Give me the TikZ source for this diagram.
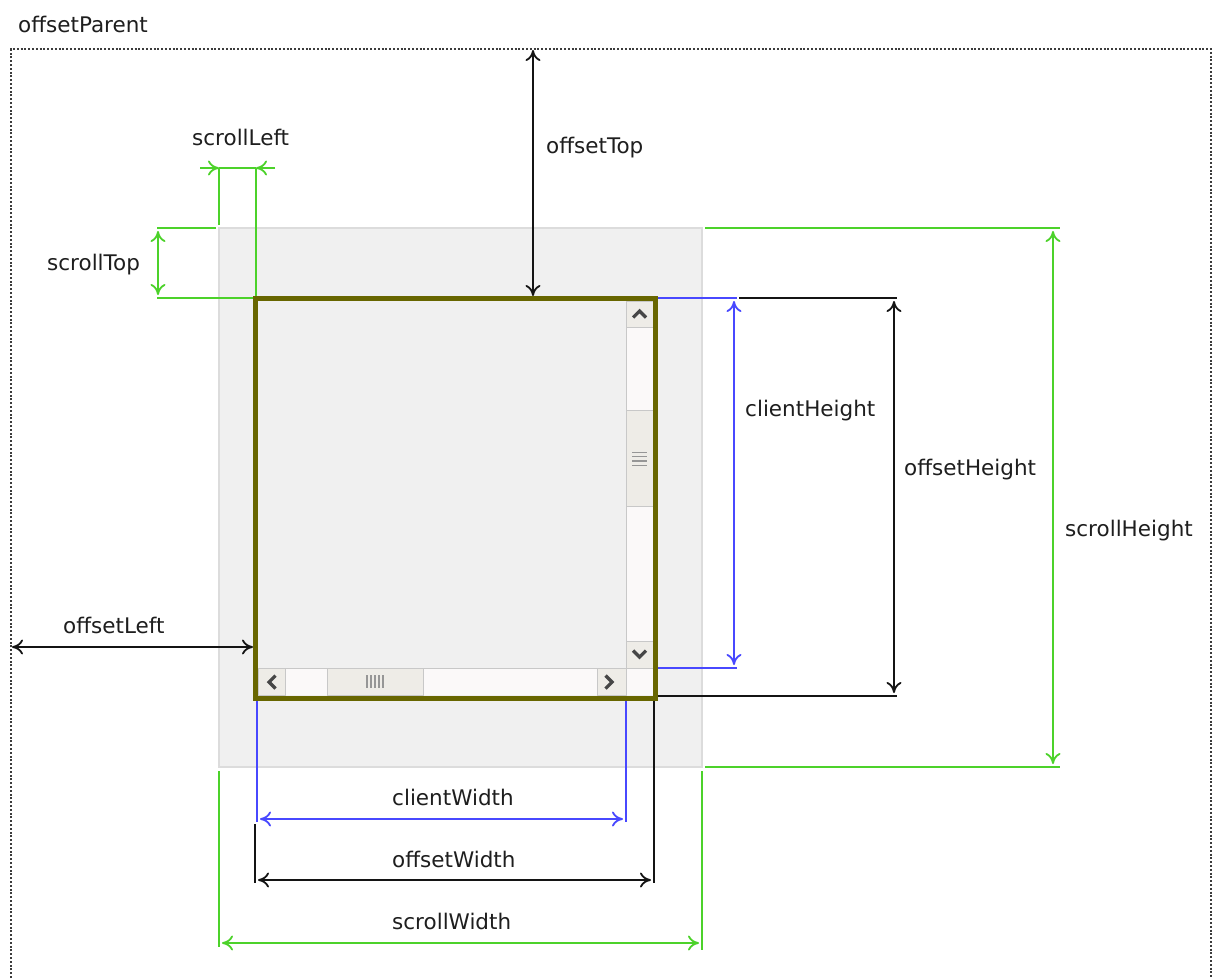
\documentclass[tikz,border=0pt]{standalone}
\usepackage{fontspec}
\setmainfont{DejaVu Sans}
\usetikzlibrary{arrows.meta}
\definecolor{dimgreen}{RGB}{76,210,42}
\definecolor{dimblue}{RGB}{72,72,255}
\definecolor{dimblack}{RGB}{20,20,20}
\definecolor{framecol}{RGB}{60,60,60}
\definecolor{olivebox}{RGB}{104,102,0}
\definecolor{scrollbg}{RGB}{240,240,240}
\definecolor{scrolledge}{RGB}{220,220,220}
\definecolor{trackbg}{RGB}{251,249,249}
\definecolor{btnbg}{RGB}{238,236,231}
\definecolor{btnedge}{RGB}{200,200,200}
\definecolor{glyph}{RGB}{70,70,70}
\definecolor{grip}{RGB}{150,150,150}
\definecolor{txt}{RGB}{30,30,30}
\begin{document}
\begin{tikzpicture}[x=1pt,y=-1pt,
  lbl/.style={font=\fontsize{21.5}{25}\selectfont, text=txt, inner sep=0pt, anchor=base west},
  extline/.style={line width=1.8pt},
  dimarrow/.style={line width=1.8pt,
    {Computer Modern Rightarrow[length=11pt,width=15pt]}-{Computer Modern Rightarrow[length=11pt,width=15pt]},
    shorten >=3pt, shorten <=3pt},
  onearrow/.style={line width=1.8pt, -{Computer Modern Rightarrow[length=11pt,width=15pt]}},
  dotframe/.style={line width=1.8pt, dash pattern=on 2pt off 1.8pt, framecol},
  btn/.style={fill=btnbg, draw=btnedge, line width=1pt},
  chev/.style={draw=glyph, line width=3.2pt},
  griplines/.style={draw=grip, line width=1.3pt}
]
\useasboundingbox (0,0) rectangle (1214,978);
\fill[white] (0,0) rectangle (1214,978);

% offsetParent frame
\node[lbl] (tparent) at (18,32) {offsetParent};
\draw[dotframe] (11,978) -- (11,49) -- (1211,49) -- (1211,978);

% scroll area (gray)
\filldraw[fill=scrollbg, draw=scrolledge, line width=1.2pt] (219,228) rectangle (702,767);

% scrollbars
\fill[trackbg] (626,301) rectangle (653,695);
\fill[trackbg] (258,668) rectangle (653,695);
\draw[btnedge, line width=1.6pt] (626.5,301) -- (626.5,668);
\draw[btnedge, line width=1.6pt] (258,668.5) -- (626,668.5);
\draw[btn] (626.5,301) rectangle (653,327);
\draw[btn] (626.5,410) rectangle (653,506);
\draw[btn] (626.5,641) rectangle (653,668);
\draw[btn] (258,668.5) rectangle (285,695);
\draw[btn] (327,668.5) rectangle (423,695);
\draw[btn] (597,668.5) rectangle (626,695);
\draw[chev] (633,317.5) -- (639.5,311) -- (646,317.5);
\draw[chev] (633,650.5) -- (639.5,657) -- (646,650.5);
\draw[chev] (275.5,675.5) -- (269,682) -- (275.5,688.5);
\draw[chev] (605.5,675.5) -- (612,682) -- (605.5,688.5);
\foreach \yy in {452.5,456.8,461.1,465.4} \draw[griplines] (632,\yy) -- (647,\yy);
\foreach \xx in {367,371,375,379,383} \draw[griplines] (\xx,675) -- (\xx,688);

% ---- coordinates ----
\coordinate (fTop) at (533,49);   \coordinate (bTop) at (533,296);
\coordinate (fLeft) at (11,647);  \coordinate (bLeft) at (253,647);
% scrollTop
\coordinate (stA1) at (157,228); \coordinate (stA2) at (216,228);
\coordinate (stB1) at (157,298); \coordinate (stB2) at (253,298);
\coordinate (stU) at (158,228);  \coordinate (stD) at (158,298);
% scrollLeft
\coordinate (slL1) at (219,168); \coordinate (slL2) at (219,225);
\coordinate (slR1) at (256,168); \coordinate (slR2) at (256,296);
\coordinate (slLo) at (200,168); \coordinate (slRo) at (275,168);
% clientHeight
\coordinate (chA1) at (658,298); \coordinate (chA2) at (737,298);
\coordinate (chB1) at (658,668); \coordinate (chB2) at (737,668);
\coordinate (chU) at (734,298);  \coordinate (chD) at (734,668);
% offsetHeight
\coordinate (ohA1) at (739,298); \coordinate (ohA2) at (897,298);
\coordinate (ohB1) at (658,696); \coordinate (ohB2) at (897,696);
\coordinate (ohU) at (894,298);  \coordinate (ohD) at (894,696);
% scrollHeight
\coordinate (shA1) at (705,228); \coordinate (shA2) at (1060,228);
\coordinate (shB1) at (705,767); \coordinate (shB2) at (1060,767);
\coordinate (shU) at (1053,228); \coordinate (shD) at (1053,767);
% clientWidth
\coordinate (cwL1) at (257,700); \coordinate (cwL2) at (257,822);
\coordinate (cwR1) at (626,696); \coordinate (cwR2) at (626,822);
\coordinate (cwL) at (257,819);  \coordinate (cwR) at (626,819);
% offsetWidth
\coordinate (owL1) at (255,824); \coordinate (owL2) at (255,883);
\coordinate (owR1) at (654,696); \coordinate (owR2) at (654,883);
\coordinate (owL) at (255,880);  \coordinate (owR) at (654,880);
% scrollWidth
\coordinate (swL1) at (219,771); \coordinate (swL2) at (219,947);
\coordinate (swR1) at (702,771); \coordinate (swR2) at (702,950);
\coordinate (swL) at (219,943);  \coordinate (swR) at (702,943);

% ---- dimension lines ----
\draw[dimarrow, dimblack, shorten <=1pt, shorten >=0pt] (fTop) -- (bTop);
\draw[dimarrow, dimblack, shorten <=1pt, shorten >=0pt] (fLeft) -- (bLeft);

\draw[extline, dimgreen] (stA1) -- (stA2);
\draw[extline, dimgreen] (stB1) -- (stB2);
\draw[dimarrow, dimgreen] (stU) -- (stD);

\draw[extline, dimgreen] (slL1) -- (slL2);
\draw[extline, dimgreen] (slR1) -- (slR2);
\draw[extline, dimgreen] (slL1) -- (slR1);
\draw[onearrow, dimgreen] (slLo) -- (slL1);
\draw[onearrow, dimgreen] (slRo) -- (slR1);

\draw[extline, dimblue] (chA1) -- (chA2);
\draw[extline, dimblue] (chB1) -- (chB2);
\draw[dimarrow, dimblue] (chU) -- (chD);

\draw[extline, dimblack] (ohA1) -- (ohA2);
\draw[extline, dimblack] (ohB1) -- (ohB2);
\draw[dimarrow, dimblack] (ohU) -- (ohD);

\draw[extline, dimgreen] (shA1) -- (shA2);
\draw[extline, dimgreen] (shB1) -- (shB2);
\draw[dimarrow, dimgreen] (shU) -- (shD);

\draw[extline, dimblue] (cwL1) -- (cwL2);
\draw[extline, dimblue] (cwR1) -- (cwR2);
\draw[dimarrow, dimblue] (cwL) -- (cwR);

\draw[extline, dimblack] (owL1) -- (owL2);
\draw[extline, dimblack] (owR1) -- (owR2);
\draw[dimarrow, dimblack] (owL) -- (owR);

\draw[extline, dimgreen] (swL1) -- (swL2);
\draw[extline, dimgreen] (swR1) -- (swR2);
\draw[dimarrow, dimgreen] (swL) -- (swR);

% element border
\draw[olivebox, line width=5pt] (255.5,298) rectangle (655.5,698);

% ---- labels ----
\node[lbl] (tsl) at (192,145) {scrollLeft};
\node[lbl] (tst) at (47,270) {scrollTop};
\node[lbl] (tot) at (546,153) {offsetTop};
\node[lbl] (tol) at (63,633) {offsetLeft};
\node[lbl] (tch) at (745,416) {clientHeight};
\node[lbl] (toh) at (904,475) {offsetHeight};
\node[lbl] (tsh) at (1065,536) {scrollHeight};
\node[lbl] (tcw) at (392,805) {clientWidth};
\node[lbl] (tow) at (392,867) {offsetWidth};
\node[lbl] (tsw) at (392,929) {scrollWidth};
\end{tikzpicture}
\end{document}
